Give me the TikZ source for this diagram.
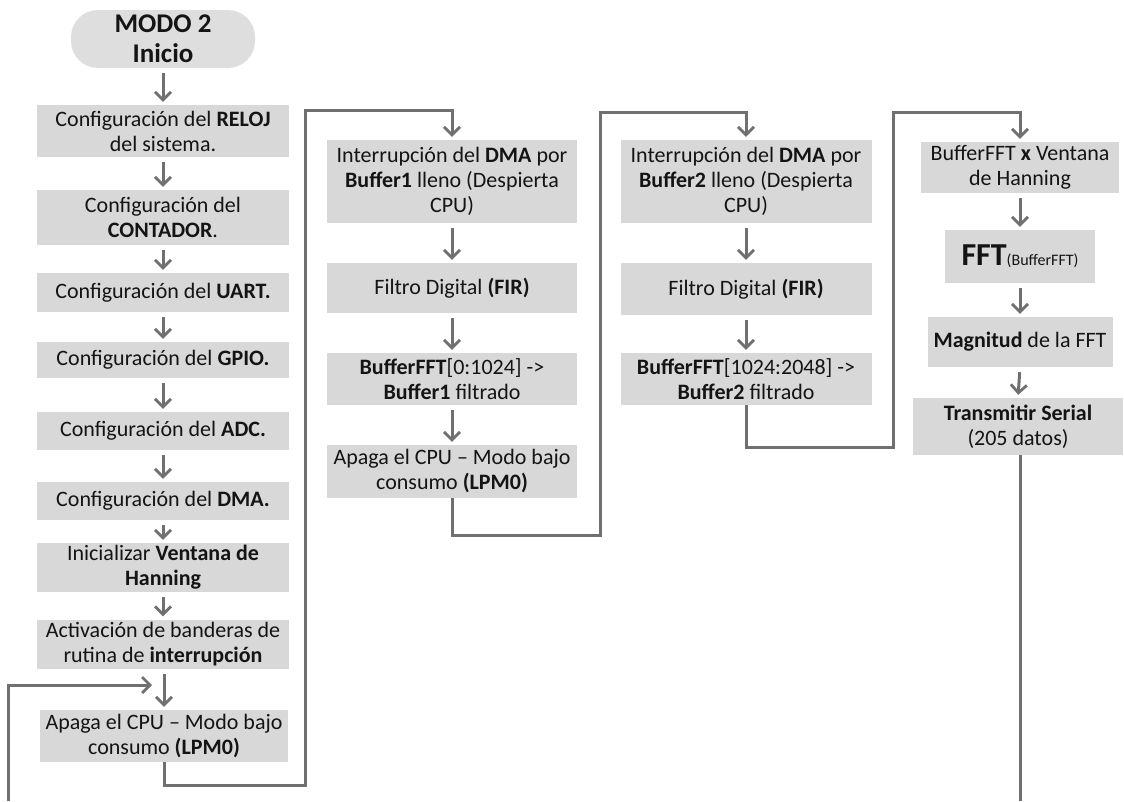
\documentclass[tikz,border=0pt]{standalone}
\usepackage{fontspec}
\setmainfont{Carlito}
\usetikzlibrary{arrows.meta}
\definecolor{boxgray}{RGB}{216,216,216}
\definecolor{startgray}{RGB}{222,222,222}
\definecolor{linegray}{RGB}{112,112,112}
\definecolor{txt}{RGB}{20,20,20}
\newcommand{\fs}{\fontsize{22}{25}\selectfont}
\tikzset{
  proc/.style={fill=boxgray, align=center, inner sep=0pt, font=\fs, text=txt},
  term/.style={proc, fill=startgray, rounded corners=27pt,
    font=\fontsize{27}{30}\selectfont\bfseries},
  link/.style={draw=linegray, line width=3pt},
  tip/.style={-{Straight Barb[length=8pt,width=16pt,line width=2.8pt]}},
  flow/.style={link, tip, shorten >=3pt, shorten <=5pt},
  route/.style={link, tip, shorten >=3pt},
}
\begin{document}
\begin{tikzpicture}[x=1pt,y=-1pt]
\useasboundingbox (0,0) rectangle (1124,801);

% left column: initialisation
\node[term, minimum width=184pt, minimum height=58pt] (s0) at (163,39)
  {MODO 2\\ Inicio};
\node[proc, minimum width=252pt, minimum height=52pt] (l1) at (163,131)
  {Configuración del \textbf{RELOJ}\\ del sistema.};
\node[proc, minimum width=252pt, minimum height=55pt] (l2) at (163,217.5)
  {Configuración del\\ \textbf{CONTADOR}.};
\node[proc, minimum width=252pt, minimum height=39pt] (l3) at (163,292.5)
  {Configuración del \textbf{UART.}};
\node[proc, minimum width=252pt, minimum height=36pt] (l4) at (163,360)
  {Configuración del \textbf{GPIO.}};
\node[proc, minimum width=252pt, minimum height=38pt] (l5) at (163,431)
  {Configuración del \textbf{ADC.}};
\node[proc, minimum width=252pt, minimum height=38pt] (l6) at (163,501)
  {Configuración del \textbf{DMA.}};
\node[proc, minimum width=252pt, minimum height=49pt] (l7) at (163,567.5)
  {Inicializar \textbf{Ventana de}\\ \textbf{Hanning}};
\node[proc, minimum width=252pt, minimum height=49pt] (l8) at (163,644)
  {Activación de banderas de\\ rutina de \textbf{interrupción}};
\node[proc, minimum width=248pt, minimum height=52pt] (l9) at (164,736)
  {Apaga el CPU – Modo bajo\\ consumo \textbf{(LPM0)}};

% second column: first buffer
\node[proc, minimum width=250pt, minimum height=83pt] (b1) at (452,181.5)
  {Interrupción del \textbf{DMA} por\\ \textbf{Buffer1} lleno (Despierta\\ CPU)};
\node[proc, minimum width=250pt, minimum height=50pt] (b2) at (452,288)
  {Filtro Digital \textbf{(FIR)}};
\node[proc, minimum width=250pt, minimum height=52pt] (b3) at (452,379)
  {\textbf{BufferFFT}[0:1024] ->\\ \textbf{Buffer1} filtrado};
\node[proc, minimum width=250pt, minimum height=53pt] (b4) at (452,471.5)
  {Apaga el CPU – Modo bajo\\ consumo \textbf{(LPM0)}};

% third column: second buffer
\node[proc, minimum width=251pt, minimum height=83pt] (c1) at (746,181.5)
  {Interrupción del \textbf{DMA} por\\ \textbf{Buffer2} lleno (Despierta\\ CPU)};
\node[proc, minimum width=251pt, minimum height=52pt] (c2) at (746,289)
  {Filtro Digital \textbf{(FIR)}};
\node[proc, minimum width=251pt, minimum height=52pt] (c3) at (746,379)
  {\textbf{BufferFFT}[1024:2048] ->\\ \textbf{Buffer2} filtrado};

% fourth column: spectrum
\node[proc, minimum width=198pt, minimum height=51pt] (d1) at (1020,167.5)
  {BufferFFT \textbf{x} Ventana\\ de Hanning};
\node[proc, minimum width=150pt, minimum height=53pt] (d2) at (1020,256.5)
  {{\fontsize{32}{32}\selectfont\bfseries FFT}{\fontsize{16}{16}\selectfont(BufferFFT)}};
\node[proc, minimum width=185pt, minimum height=50pt] (d3) at (1020,342)
  {\textbf{Magnitud} de la FFT};
\node[proc, minimum width=210pt, minimum height=57pt] (d4) at (1018,426.5)
  {\textbf{Transmitir Serial}\\ (205 datos)};

% straight arrows between consecutive steps
\foreach \a/\b in {s0/l1, l1/l2, l2/l3, l3/l4, l4/l5, l5/l6, l6/l7, l7/l8,
                   b1/b2, b2/b3, b3/b4, c1/c2, c2/c3, d1/d2, d2/d3, d3/d4}
  \draw[flow] (\a.south) -- (\b.north);
\draw[flow] (l8.south -| l9.north) -- (l9.north);

% routing corners
\coordinate (r1) at (305,785);
\coordinate (r2) at (452,110);
\coordinate (r3) at (600,535);
\coordinate (r4) at (746,112);
\coordinate (r5) at (893,447);
\coordinate (r6) at (1020,112);
\coordinate (loopin) at (8,801);
\coordinate (loopend) at (155,685);
\coordinate (outend) at (1020,801);

% column-to-column connectors
\draw[route] (l9.south) |- (r1) |- (r2) -- (b1.north);
\draw[route] (b4.south) |- (r3) |- (r4) -- (c1.north);
\draw[route] (c3.south) |- (r5) |- (r6) -- (d1.north);

% return loop and output line
\draw[route] (loopin) |- (loopend);
\draw[link] (d4.south -| outend) -- (outend);
\end{tikzpicture}
\end{document}
